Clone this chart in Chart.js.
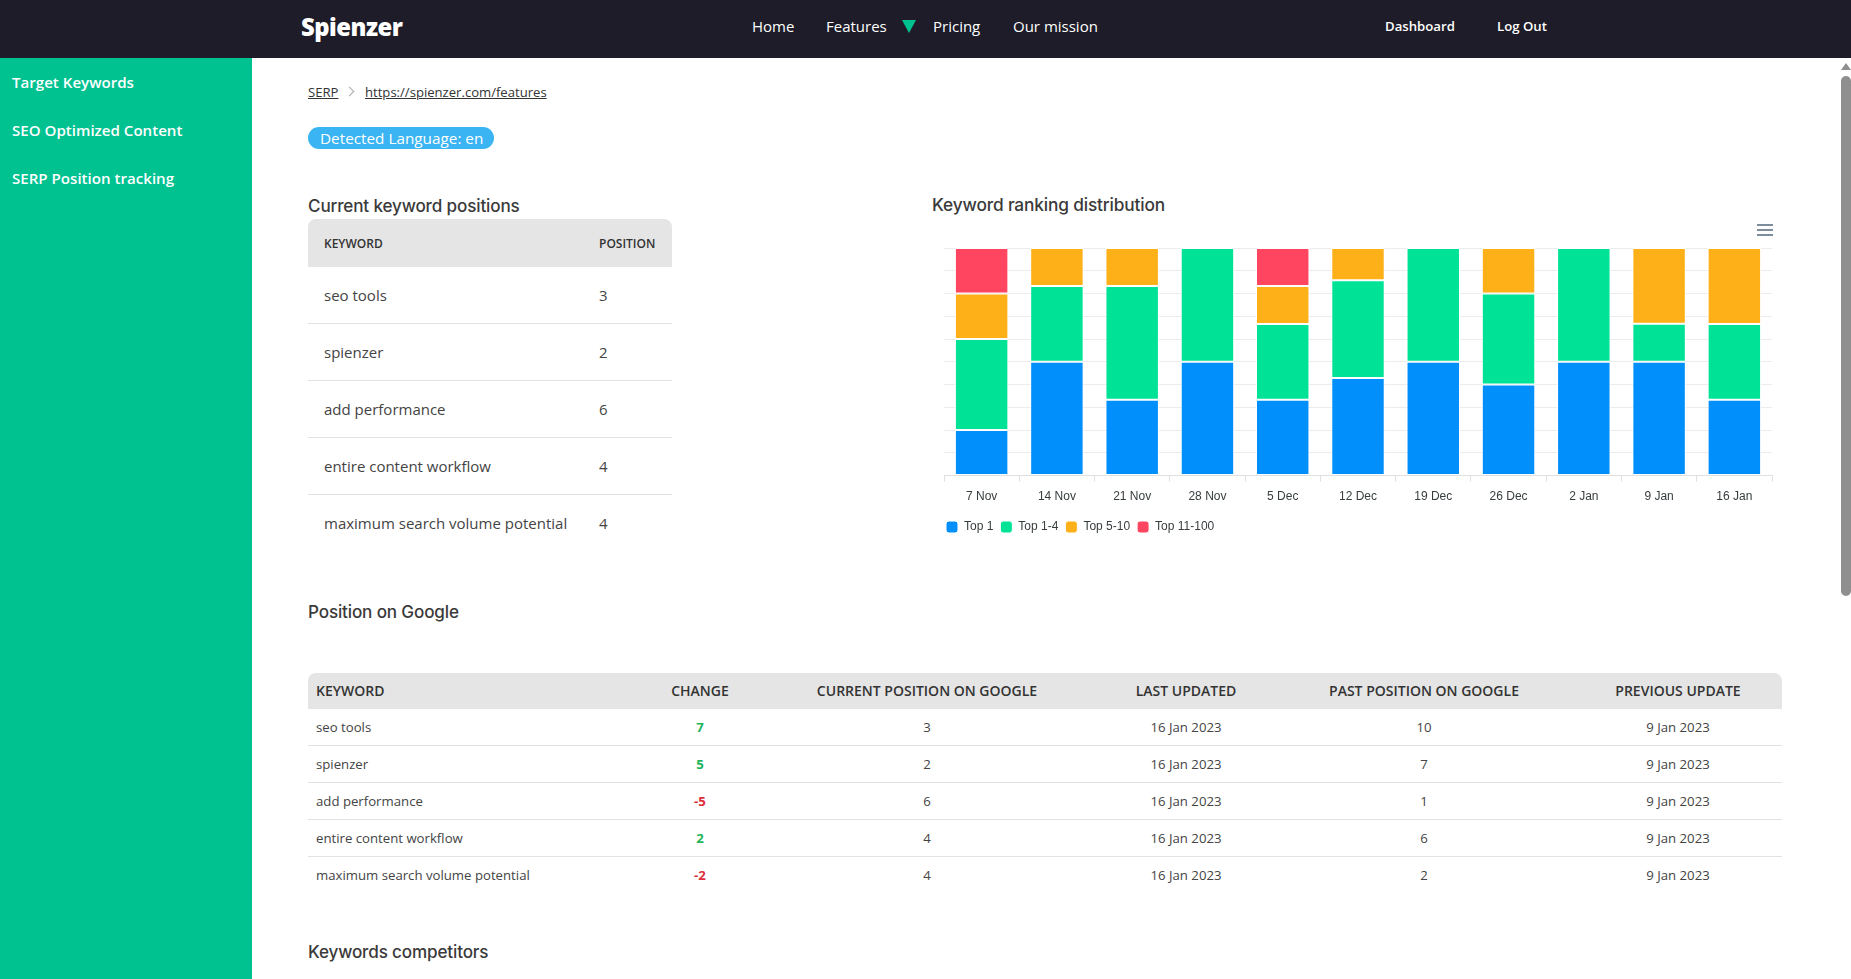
<!DOCTYPE html>
<html>
<head>
<meta charset="utf-8">
<title>Spienzer SERP</title>
<script src="https://cdn.jsdelivr.net/npm/chart.js@4"></script>
<style>
  html, body { margin: 0; padding: 0; width: 1851px; height: 979px; overflow: hidden; background: #fff; }
  body { font-family: "Open Sans", sans-serif; color: #333; position: relative; }
  .abs { position: absolute; white-space: nowrap; line-height: 1; }
  #topbar { position: absolute; left: 0; top: 0; width: 1851px; height: 58px; background: #1d1c28; }
  #sidebar { position: absolute; left: 0; top: 58px; width: 252px; height: 921px; background: #00c190; }
  .nav { color: #fff; font-size: 15px; top: 19px; }
  .navb { color: #fff; font-size: 13.2px; font-weight: 600; top: 20px; }
  .side { color: #fff; font-size: 15.1px; font-weight: 600; left: 12px; }
  .head { font-family: Inter, sans-serif; font-weight: 500; font-size: 17.1px; color: #3a3a3a; letter-spacing: -0.15px; }
  .crumb { font-size: 13.1px; color: #333; text-decoration: underline; top: 86px; }
  table { position: absolute; border-collapse: collapse; table-layout: fixed; }
  th { background: #e5e5e5; font-weight: 600; text-transform: uppercase; color: #333; padding: 0; }
  td { padding: 0; color: #444; }
  #posTable { left: 308px; top: 219px; width: 364px; }
  #posTable th { height: 48px; font-size: 12px; text-align: left; padding-left: 16px; }
  #posTable th:first-child { border-top-left-radius: 8px; }
  #posTable th:last-child { border-top-right-radius: 8px; }
  #posTable td { height: 56px; font-size: 15px; padding-left: 16px; border-top: 1px solid #e3e3e3; }
  #posTable tr:nth-child(2) td { border-top: none; }
  #gTable { left: 308px; top: 673px; width: 1474px; }
  #gTable th { height: 35px; padding-bottom: 1px; font-size: 14px; text-align: center; }
  #gTable th:first-child { text-align: left; padding-left: 8px; border-top-left-radius: 8px; }
  #gTable th:last-child { border-top-right-radius: 8px; }
  #gTable td { height: 36px; font-size: 13.2px; text-align: center; border-top: 1px solid #e3e3e3; }
  #gTable tr:nth-child(2) td { border-top: none; }
  #gTable td:first-child { text-align: left; padding-left: 8px; }
  #gTable td.up { color: #22b45a; font-weight: 700; }
  #gTable td.down { color: #dc2f3c; font-weight: 700; }
  #chartBox { position: absolute; left: 930px; top: 235px; width: 860px; height: 316px; }
</style>
</head>
<body>
<div id="topbar"></div>
<div id="sidebar"></div>

<div class="abs" style="left:301px;top:16px;font-size:23.8px;font-weight:800;color:#fff;letter-spacing:-0.5px">Spienzer</div>
<div class="abs nav" style="left:752px">Home</div>
<div class="abs nav" style="left:826px">Features</div>
<div class="abs" style="left:902px;top:20px;width:0;height:0;border-left:7.5px solid transparent;border-right:7.5px solid transparent;border-top:13px solid #00c190"></div>
<div class="abs nav" style="left:933px">Pricing</div>
<div class="abs nav" style="left:1013px">Our mission</div>
<div class="abs navb" style="left:1385px">Dashboard</div>
<div class="abs navb" style="left:1497px">Log Out</div>

<div class="abs side" style="top:75px">Target Keywords</div>
<div class="abs side" style="top:123px">SEO Optimized Content</div>
<div class="abs side" style="top:171px">SERP Position tracking</div>

<div class="abs crumb" style="left:308px">SERP</div>
<div class="abs" style="left:346px;top:88px;width:6px;height:6px;border-top:1px solid #aaa;border-right:1px solid #aaa;transform:rotate(45deg)"></div>
<div class="abs crumb" style="left:365px">https://spienzer.com/features</div>

<div class="abs" style="left:308px;top:127px;width:186px;height:22px;border-radius:11px;background:#3ab4f2"></div>
<div class="abs" style="left:320px;top:131px;font-size:15.3px;color:#fff">Detected Language: en</div>

<div class="abs head" style="left:308px;top:197px">Current keyword positions</div>
<div class="abs head" style="left:932px;top:196px;font-size:17.3px">Keyword ranking distribution</div>
<div class="abs head" style="left:308px;top:603px">Position on Google</div>
<div class="abs head" style="left:308px;top:943px">Keywords competitors</div>

<table id="posTable"><colgroup><col style="width:275px"><col style="width:89px"></colgroup><tbody id="posBody"></tbody></table>
<table id="gTable"><colgroup><col style="width:336px"><col style="width:112px"><col style="width:342px"><col style="width:176px"><col style="width:300px"><col style="width:208px"></colgroup><tbody id="gBody"></tbody></table>

<div id="chartBox"><canvas id="rankChart"></canvas></div>

<!-- chart toolbar menu icon -->
<div class="abs" style="left:1757px;top:224px;width:16px;height:2px;background:#7d8d9c"></div>
<div class="abs" style="left:1757px;top:229px;width:16px;height:2px;background:#7d8d9c"></div>
<div class="abs" style="left:1757px;top:234px;width:16px;height:2px;background:#7d8d9c"></div>

<!-- page scrollbar -->
<div class="abs" style="left:1841px;top:63px;width:0;height:0;border-left:5px solid transparent;border-right:5px solid transparent;border-bottom:7px solid #8f8f8f"></div>
<div class="abs" style="left:1841px;top:76px;width:10px;height:520px;border-radius:5px;background:#8f8f8f"></div>

<script>
const weeks = ['7 Nov', '14 Nov', '21 Nov', '28 Nov', '5 Dec', '12 Dec', '19 Dec', '26 Dec', '2 Jan', '9 Jan', '16 Jan'];
const top1 = [20, 50, 33.3, 50, 33.3, 42.9, 50, 40, 50, 50, 33.3];
const top1to4 = [40, 33.3, 50, 50, 33.3, 42.9, 50, 40, 50, 16.7, 33.3];
const top5to10 = [20, 16.7, 16.7, 0, 16.7, 14.2, 0, 20, 0, 33.3, 33.4];
const top11to100 = [20, 0, 0, 0, 16.7, 0, 0, 0, 0, 0, 0];

const posKeywords = ['seo tools', 'spienzer', 'add performance', 'entire content workflow', 'maximum search volume potential'];
const currentPositions = [3, 2, 6, 4, 4];
const changes = [7, 5, -5, 2, -2];
const pastPositions = [10, 7, 1, 6, 2];
const lastUpdated = '16 Jan 2023';
const previousUpdate = '9 Jan 2023';
const gHeaders = ['Keyword', 'Change', 'Current position on Google', 'Last updated', 'Past position on Google', 'Previous update'];

// tables
let html = '<tr><th>Keyword</th><th>Position</th></tr>';
posKeywords.forEach((k, i) => {
  html += `<tr><td>${k}</td><td>${currentPositions[i]}</td></tr>`;
});
document.getElementById('posBody').innerHTML = html;

html = '<tr>' + gHeaders.map(h => `<th>${h}</th>`).join('') + '</tr>';
posKeywords.forEach((k, i) => {
  const cls = changes[i] > 0 ? 'up' : 'down';
  html += `<tr><td>${k}</td><td class="${cls}">${changes[i]}</td><td>${currentPositions[i]}</td><td>${lastUpdated}</td><td>${pastPositions[i]}</td><td>${previousUpdate}</td></tr>`;
});
document.getElementById('gBody').innerHTML = html;

// stacked ranking chart
const ctx = document.getElementById('rankChart').getContext('2d');
new Chart(ctx, {
  type: 'bar',
  data: {
    labels: weeks,
    datasets: [
      { label: 'Top 1', data: top1, backgroundColor: '#008ffb' },
      { label: 'Top 1-4', data: top1to4, backgroundColor: '#00e396' },
      { label: 'Top 5-10', data: top5to10, backgroundColor: '#feb019' },
      { label: 'Top 11-100', data: top11to100, backgroundColor: '#ff4560' }
    ].map(d => ({ ...d, borderColor: '#fff', borderWidth: 1, borderSkipped: false, categoryPercentage: 0.71, barPercentage: 1 }))
  },
  options: {
    responsive: true,
    maintainAspectRatio: false,
    animation: false,
    layout: { padding: { left: 9, right: 18, top: 13, bottom: 8 } },
    scales: {
      x: {
        stacked: true,
        afterFit: axis => { axis.height += 2; },
        grid: { display: true, drawOnChartArea: false, drawTicks: true, tickLength: 6, color: '#e0e0e0' },
        border: { color: '#e0e0e0' },
        ticks: { padding: 8, color: '#373d3f', maxRotation: 0, font: { family: 'Liberation Sans', size: 12 } }
      },
      y: {
        stacked: true,
        min: 0,
        max: 100,
        afterFit: axis => { axis.width = 5; },
        ticks: { stepSize: 10, display: false },
        grid: { color: '#ececec', drawTicks: false },
        border: { display: false }
      }
    },
    plugins: {
      tooltip: { enabled: false },
      legend: {
        position: 'bottom',
        align: 'start',
        labels: {
          boxWidth: 12,
          boxHeight: 12,
          useBorderRadius: true,
          borderRadius: 3,
          padding: 7,
          color: '#373d3f',
          font: { family: 'Liberation Sans', size: 12 }
        }
      }
    }
  }
});
</script>
</body>
</html>
